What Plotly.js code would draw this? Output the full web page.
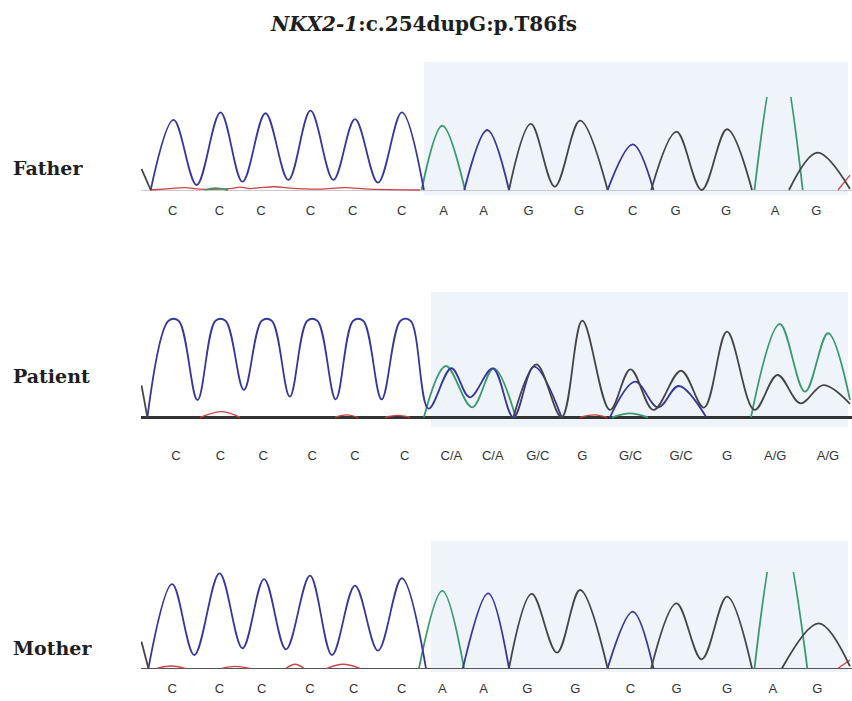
<!DOCTYPE html>
<html>
<head>
<meta charset="utf-8">
<script src="https://cdn.plot.ly/plotly-3.0.1.min.js"></script>
<style>html,body{margin:0;padding:0;background:#fff;}#chart{width:852px;height:701px;}</style>
</head>
<body>
<div id="chart"></div>
<script>
// ---------- DATA (scan position, signal 0-100; >100 is off-scale; null = trace at rest on baseline) ----------
const father_C_x = [150.7, 173.6, 196.6, 220.5, 242.5, 265.5, 288.4, 310.5, 333.4, 355.0, 378.0, 401.8, 423.9, null, 464.3, 487.3, 509.0, null, 607.6, 632.8, 653.5];
const father_C_y = [0, 75.3, 5.4, 83.5, 8.9, 82.5, 10.8, 85.3, 10.8, 76.3, 7.9, 83.5, 0, null, 0, 64.5, 0, null, 0, 49.1, 0];
const father_A_x = [205, 215, 228, null, 421.6, 442.3, 465.0, null, 754.5, 779.0, 802.7];
const father_A_y = [0, 2, 0, null, 0, 69.1, 0, null, 0, 150, 0];
const father_G_x = [141.5, 150.7, null, 509.0, 530.9, 554.8, 580.0, 607.6, null, 651.2, 676.5, 701.7, 727.0, 752.0, null, 789.0, 817.4, 850];
const father_G_y = [22.6, 0, null, 0, 71.0, 3.6, 74.5, 0, null, 0, 62.7, 0, 65.3, 0, null, 0, 40.1, 1];
const father_T_x = [150, 170, 185, 200, 230, 240, 250, 260, 275, 290, 320, 345, 370, 420, null, 838, 850];
const father_T_y = [0, 1.5, 2.5, 1, 1.5, 3, 1.5, 2.5, 3.5, 2, 1, 2.5, 1, 0, null, 0, 16];

const patient_C_x = [147.4, 168.6, 178.6, 197.5, 215.5, 225.5, 243.9, 261.8, 271.8, 289.8, 307.3, 317.3, 335.7, 353.2, 363.2, 381.6, 400.5, 410.5, 428.5, 451.4, 469.8, 492.8, 513.4, 534.1, 561.6, null, 609.9, 635.1, 658.1, 678.7, 706.3];
const patient_C_y = [0, 100, 100, 17.9, 100, 100, 28.3, 100, 100, 21.4, 100, 100, 18.6, 100, 100, 18.6, 100, 100, 9, 50.8, 20.7, 50.7, 0, 52.5, 0, null, 0, 36.9, 10.1, 32.4, 0];
const patient_A_x = [423.9, 445.9, 472.1, 493.7, 515.7, null, 612, 630, 648, null, 751, 779.8, 805, 828, 850];
const patient_A_y = [0, 53.1, 10.3, 50.7, 0, null, 0, 4, 0, null, 0, 96.6, 26.5, 87, 17.9];
const patient_G_x = [141.5, 147.4, null, 513.4, 536.4, 561.6, 582.3, 609.9, 630.5, 653.5, 681.0, 704.0, 727.0, 754.5, 777.5, 800.4, 823.4, 850];
const patient_G_y = [33.1, 0, null, 0, 54.8, 0, 100, 7.6, 49.7, 7.6, 48.2, 10, 88.6, 7.6, 43.8, 14.5, 33.4, 14];
const patient_T_x = [200, 222, 240, null, 335, 347, 358, null, 385, 398, 410, null, 580, 595, 607];
const patient_T_y = [0, 5.8, 0, null, 0, 2.5, 0, null, 0, 2, 0, null, 0, 2.5, 0];

const mother_C_x = [148.4, 172.2, 194.3, 219.5, 242.5, 264.1, 286.0, 310.0, 332.0, 355.0, 378.0, 401.8, 426.0, null, 462.9, 488.2, 509.0, null, 607.6, 632.8, 653.5];
const mother_C_y = [0, 87.5, 13.8, 98.6, 20.8, 92.7, 19.7, 96.2, 13.8, 85.8, 18.3, 93.5, 0, null, 0, 77.9, 0, null, 0, 58.8, 0];
const mother_A_x = [419, 442.3, 464, null, 754.5, 780, 807.3];
const mother_A_y = [0, 80.3, 0, null, 0, 150, 0];
const mother_G_x = [141.5, 148.4, null, 509, 531.8, 557, 580, 607.6, null, 651.2, 676.5, 701.7, 727, 752, null, 782, 818.8, 850];
const mother_G_y = [27.6, 0, null, 0, 77.2, 16.2, 81.3, 0, null, 0, 67.5, 9.3, 74.4, 0, null, 0, 46.7, 2];
const mother_T_x = [157, 171, 185, null, 222, 235, 249, null, 286, 295, 304, null, 327, 343, 360, null, 838, 850];
const mother_T_y = [0, 2.4, 0, null, 0, 2, 0, null, 0, 4.2, 0, null, 0, 4.2, 0, null, 0, 8.6];

const father_pos = [172.7, 219.5, 260.9, 310.4, 352.7, 401.8, 443.6, 483.6, 528.6, 579.1, 632.8, 675.5, 726, 775, 816.3];
const father_bases = ['C','C','C','C','C','C','A','A','G','G','C','G','G','A','G'];
const patient_pos = [175.9, 220.5, 263.2, 312.3, 355, 404.6, 451.4, 492.8, 537.8, 582.3, 630.5, 681, 727, 775.2, 828];
const patient_bases = ['C','C','C','C','C','C','C/A','C/A','G/C','G','G/C','G/C','G','A/G','A/G'];
const mother_pos = [172.2, 219.5, 261.8, 310, 353.6, 401.8, 442.3, 483.6, 527.2, 575.4, 630.5, 676.5, 727, 772.9, 817.4];
const mother_bases = ['C','C','C','C','C','C','A','A','G','G','C','G','G','A','G'];

const panelNames = ['Father', 'Patient', 'Mother'];
const titleText = '<i>NKX2-1</i>:c.254dupG:p.T86fs';

// ---------- STYLE / LAYOUT ----------
const W = 852, H = 701;
const colors = {C: '#36369c', A: '#3a9a6c', G: '#454545', T: '#cc4444'};
const py = p => 1 - p / H;

// panel geometry in page pixels
const panels = [
  {base: 190,   top100: 97,    headroom: 0, bottom: 194, shadeTop: 62,  shadeBot: 195, shadeX0: 424, zc: '#c9c9d6', zw: 1,   tl: 4},
  {base: 417.3, top100: 320.7, headroom: 4, bottom: 421, shadeTop: 292, shadeBot: 427, shadeX0: 431, zc: '#333333', zw: 3,   tl: 22},
  {base: 668.3, top100: 572,   headroom: 0, bottom: 672, shadeTop: 541, shadeBot: 672, shadeX0: 431, zc: '#555555', zw: 1.5, tl: 4}
];

const data = [];
const series = [
  {C:[father_C_x,father_C_y], A:[father_A_x,father_A_y], G:[father_G_x,father_G_y], T:[father_T_x,father_T_y]},
  {C:[patient_C_x,patient_C_y], A:[patient_A_x,patient_A_y], G:[patient_G_x,patient_G_y], T:[patient_T_x,patient_T_y]},
  {C:[mother_C_x,mother_C_y], A:[mother_A_x,mother_A_y], G:[mother_G_x,mother_G_y], T:[mother_T_x,mother_T_y]}
];
const ticks = [[father_pos,father_bases],[patient_pos,patient_bases],[mother_pos,mother_bases]];

const layout = {
  width: W, height: H,
  margin: {l: 0, r: 0, t: 0, b: 0},
  paper_bgcolor: '#ffffff', plot_bgcolor: 'rgba(0,0,0,0)',
  showlegend: false,
  title: {text: titleText, x: 424 / W, xanchor: 'center', y: py(24), yanchor: 'middle',
          font: {family: 'DejaVu Serif', size: 20, color: '#1e1e1e', weight: 'bold'}},
  shapes: [], annotations: []
};

panels.forEach((p, i) => {
  const n = i === 0 ? '' : String(i + 1);
  const pxPerUnit = (p.base - p.top100) / 100;
  const yMin = -(p.bottom - p.base) / pxPerUnit;
  const yMax = 100 + p.headroom;
  const topPx = p.top100 - p.headroom * pxPerUnit;
  ['T', 'A', 'C', 'G'].forEach(ch => {
    data.push({
      type: 'scatter', mode: 'lines',
      x: series[i][ch][0], y: series[i][ch][1],
      xaxis: 'x' + n, yaxis: 'y' + n, connectgaps: false,
      line: {color: colors[ch], width: ch === 'T' ? 1.3 : 1.8, shape: 'spline', smoothing: 1},
      hoverinfo: 'skip'
    });
  });
  layout['xaxis' + n] = {
    domain: [141 / W, 1], range: [141, 852], anchor: 'y' + n,
    showgrid: false, zeroline: false, showline: false,
    tickmode: 'array', tickvals: ticks[i][0], ticktext: ticks[i][1],
    ticks: 'outside', ticklen: p.tl, tickcolor: 'rgba(0,0,0,0)',
    tickfont: {family: 'Liberation Sans, Arial, sans-serif', size: 13, color: '#333333'},
    fixedrange: true
  };
  layout['yaxis' + n] = {
    domain: [py(p.bottom), py(topPx)], range: [yMin, yMax], anchor: 'x' + n,
    showgrid: false, showticklabels: false, showline: false, ticks: '',
    zeroline: true, zerolinecolor: p.zc, zerolinewidth: p.zw, fixedrange: true
  };
  layout.shapes.push({
    type: 'rect', xref: 'x' + n, yref: 'paper', layer: 'below',
    x0: p.shadeX0, x1: 848, y0: py(p.shadeBot), y1: py(p.shadeTop),
    fillcolor: '#eef4fa', line: {width: 0}
  });
  layout.annotations.push({
    text: '<b>' + panelNames[i] + '</b>', xref: 'paper', yref: 'paper',
    x: 11 / W, xanchor: 'left', y: py([168, 376, 648][i]), yanchor: 'middle',
    showarrow: false, font: {family: 'DejaVu Serif', size: 19, color: '#1e1e1e'}
  });
});

Plotly.newPlot('chart', data, layout, {staticPlot: true, displayModeBar: false});
</script>
</body>
</html>
